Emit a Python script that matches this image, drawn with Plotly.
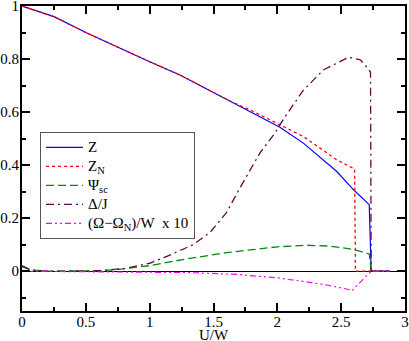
import plotly.graph_objects as go

# values
u_z = [0, 0.09, 0.25, 0.5, 0.846, 1.0, 1.237, 1.629, 1.942, 2.02, 2.204, 2.466, 2.597, 2.72, 2.735, 2.88]
z = [1.0, 0.985, 0.96, 0.90, 0.822, 0.79, 0.74, 0.64, 0.561, 0.543, 0.483, 0.376, 0.307, 0.251, 0.0, 0.0]

u_zn = [0, 0.09, 0.25, 0.5, 0.846, 1.0, 1.237, 1.629, 1.8, 1.942, 2.204, 2.466, 2.58, 2.605, 2.612, 2.88]
zn = [1.0, 0.985, 0.96, 0.90, 0.822, 0.79, 0.74, 0.642, 0.605, 0.571, 0.508, 0.42, 0.393, 0.385, 0.0, 0.0]

u_psi = [0, 0.05, 0.1, 0.2, 0.6, 0.74, 1.0, 1.26, 1.6, 2.0, 2.23, 2.4, 2.49, 2.6, 2.72, 2.735, 2.88]
psi = [0.021, 0.01, 0.004, 0.0, 0.002, 0.006, 0.021, 0.044, 0.07, 0.092, 0.098, 0.095, 0.09, 0.082, 0.065, 0.0, 0.0]

u_delta = [0, 0.05, 0.1, 0.2, 0.6, 0.8, 1.0, 1.135, 1.34, 1.47, 1.6, 1.707, 1.864, 1.98, 2.05, 2.2, 2.36,
           2.56, 2.65, 2.71, 2.73, 2.735, 2.88]
delta = [0.018, 0.008, 0.003, 0.0, 0.002, 0.01, 0.03, 0.056, 0.1, 0.145, 0.22, 0.314, 0.446, 0.52, 0.575,
         0.68, 0.759, 0.807, 0.797, 0.765, 0.75, 0.0, 0.0]

u_omega = [0, 1.0, 1.3, 1.68, 2.0, 2.2, 2.4, 2.56, 2.58, 2.735, 2.88]
omega = [0.0, -0.002, -0.005, -0.012, -0.025, -0.038, -0.053, -0.069, -0.075, 0.0, 0.0]

xticks = [0, 0.5, 1, 1.5, 2, 2.5, 3]
xlabels = ["0", "0.5", "1", "1.5", "2", "2.5", "3"]
yticks = [0, 0.2, 0.4, 0.6, 0.8, 1]
ylabels = ["0", "0.2", "0.4", "0.6", "0.8", "1"]

font = "Liberation Serif"


def big(s):
    return "<span style='font-size:15px'>" + s + "</span>"


fig = go.Figure()
fig.add_trace(go.Scatter(x=u_z, y=z, mode="lines", name=big("Z"),
                         line=dict(color="#0000ff", width=1.2)))
fig.add_trace(go.Scatter(x=u_zn, y=zn, mode="lines", name=big("Z<sub>N</sub>"),
                         line=dict(color="#ff0000", width=1.3, dash="dot")))
fig.add_trace(go.Scatter(x=u_psi, y=psi, mode="lines", name=big("\u03a8<sub>sc</sub>"),
                         line=dict(color="#008b00", width=1.3, dash="8px,4px")))
fig.add_trace(go.Scatter(x=u_delta, y=delta, mode="lines", name=big("\u0394/J"),
                         line=dict(color="#670748", width=1.3, dash="8px,4px,2px,4px")))
fig.add_trace(go.Scatter(x=u_omega, y=omega, mode="lines",
                         name=big("(\u03a9\u2212\u03a9<sub>N</sub>)/W \u00a0x 10"),
                         line=dict(color="#ff00ff", width=1.2, dash="6px,3px,2px,3px,2px,3px")))

axis_common = dict(showline=True, linecolor="black", linewidth=2, mirror="ticks",
                   ticks="inside", ticklen=8, tickwidth=1.5, tickcolor="black",
                   showgrid=False, automargin=False, ticklabeloverflow="allow",
                   tickfont=dict(family=font, size=15, color="black"))

fig.update_xaxes(range=[0, 3], tickvals=xticks, ticktext=xlabels, zeroline=False,
                 ticklabelstandoff=-4,
                 minor=dict(dtick=0.25, ticks="inside", ticklen=4, tickcolor="black"),
                 **axis_common)
fig.update_yaxes(range=[-0.15, 1], tickvals=yticks, ticktext=ylabels,
                 zeroline=True, zerolinecolor="black", zerolinewidth=1,
                 ticklabelstandoff=-2,
                 minor=dict(dtick=0.1, ticks="inside", ticklen=4, tickcolor="black"),
                 **axis_common)

# x-axis title placed as an annotation so it sits below the tick labels
fig.add_annotation(text="U/W", xref="paper", yref="paper", x=0.5, y=0,
                   yshift=-24, yanchor="middle", showarrow=False,
                   font=dict(family=font, size=15, color="black"))

fig.update_layout(width=409, height=341, margin=dict(l=22, r=4, t=6, b=30),
                  paper_bgcolor="white", plot_bgcolor="white",
                  font=dict(family=font, size=14, color="black"),
                  legend=dict(x=0.047, y=0.587, xanchor="left", yanchor="top",
                              bgcolor="white", bordercolor="#555555", borderwidth=1,
                              font=dict(family=font, size=12, color="black"),
                              tracegroupgap=0, itemwidth=37))

fig.write_html("out.html", config={"displayModeBar": False},
               post_script="document.body.style.margin='0px';")
